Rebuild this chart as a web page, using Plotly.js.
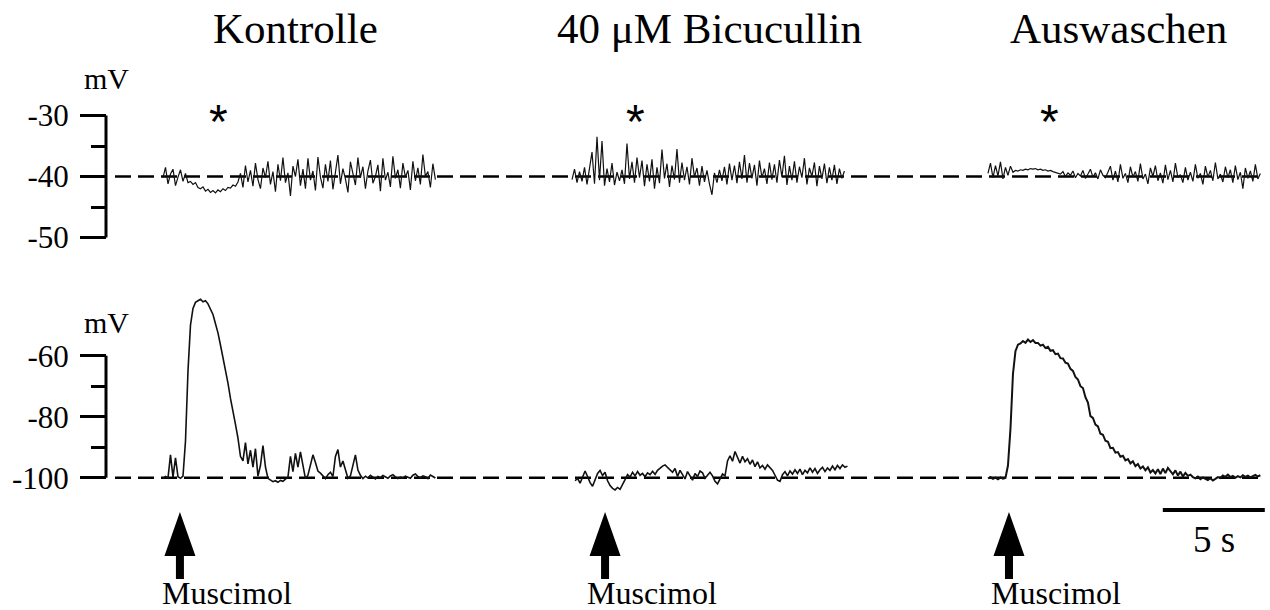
<!DOCTYPE html>
<html>
<head>
<meta charset="utf-8">
<script src="https://cdn.plot.ly/plotly-3.0.1.min.js"></script>
<style>html,body{margin:0;padding:0;background:#fff;}#chart{width:1270px;height:610px;}</style>
</head>
<body>
<div id="chart"></div>
<script>
// ---------------- DATA ----------------
const panelTitles = ["Kontrolle", "40 \u03bcM Bicucullin", "Auswaschen"];
const stimLabel = "Muscimol";
const unitLabel = "mV";
const scaleBarSeconds = 5;
const scaleBarLabel = "5 s";

// recording start times (s), sample interval (s)
const startTop = [7.99, 28.04, 48.43];
const startBottom = [7.99, 28.19, 48.43];
const sampleDt = 0.1225;
// Muscimol application times (s) and asterisk marks (s)
const muscimolTimes = [8.82, 29.66, 49.46];
const starTimes = [10.69, 31.13, 51.47];

// top row: membrane potential (mV)
const topKontrolle = [-40.2,-38.5,-41.2,-39.6,-38.8,-41.5,-40.1,-38.9,-40.8,-39.5,-41.0,
 -40.8,-41.3,-41.0,-41.8,-42.0,-41.7,-42.4,-42.1,-42.6,-42.3,-42.7,-42.2,-42.5,-42.0,-42.3,-41.8,-41.9,-41.4,-41.6,-40.9,
 -39.5,-41.8,-38.2,-40.9,-39.0,-41.6,-37.8,-40.5,-42.0,-38.6,-40.2,-37.5,-41.3,-39.2,-42.5,-38.0,-40.7,-36.9,-41.0,-39.4,-43.2,-38.3,-40.0,-37.2,
 -41.5,-38.8,-42.0,-37.0,-40.6,-39.1,-42.3,-36.8,-40.1,-41.9,-38.0,-40.8,-37.4,-42.1,-39.6,-36.5,-41.2,-38.7,-40.4,-42.6,-37.6,-39.8,-41.4,-36.9,-40.2,-38.4,-42.0,-39.1,-37.3,-41.1,-40.0,-38.1,-42.4,-37.0,-40.6,-39.3,-41.7,-36.7,-40.3,-38.9,-41.9,-37.8,-40.1,-39.0,-42.2,-37.5,-40.7,-38.6,-41.3,-36.4,-40.0,-39.2,-41.8,-37.9,-40.5];
const topBicucullin = [-40.5,-38.8,-41.0,-39.2,-40.8,-38.5,-41.3,-39.0,-36.0,-41.2,
 -33.5,-40.6,-34.2,-41.5,-38.7,-40.9,-37.8,-41.4,-39.3,-40.7,
 -38.9,-41.2,-34.6,-40.4,-37.6,-41.0,-36.9,-40.2,-37.4,-41.6,
 -38.0,-40.8,-37.2,-42.0,-38.5,-41.1,-35.6,-40.3,-37.9,-41.7,
 -38.2,-40.5,-35.5,-41.0,-37.7,-40.6,-38.4,-41.3,-37.0,-40.1,
 -38.6,-41.5,-38.3,-40.9,-39.0,-41.2,-43.0,-39.4,-41.0,-38.9,
 -40.7,-38.4,-41.3,-37.9,-40.6,-38.2,-41.1,-37.6,-40.4,-36.5,
 -41.0,-37.8,-40.3,-38.1,-41.5,-37.4,-40.2,-38.7,-41.2,-37.7,
 -40.5,-38.0,-41.0,-37.3,-40.1,-36.6,-41.4,-38.3,-40.6,-37.5,
 -41.0,-38.4,-40.2,-37.0,-41.3,-38.6,-40.0,-37.7,-41.6,-38.3,
 -40.4,-37.9,-41.1,-38.5,-40.6,-38.1,-41.2,-38.7,-40.3,-39.1];
const topAuswaschen = [-39.5,-37.8,-40.2,-38.2,-39.9,-37.6,-40.4,-38.5,-39.8,-38.3,
 -39.3,-39.0,-39.1,-38.9,-39.0,-38.8,-38.9,-38.7,-38.8,-38.7,-38.9,-38.8,-39.0,-38.9,-39.1,-39.0,-39.2,-39.3,-39.4,
 -39.6,-39.2,-40.0,-39.4,-39.8,-39.1,-40.2,-39.5,-39.9,-39.0,-40.3,-39.6,-38.8,-40.1,-39.4,-40.4,-38.9,-39.8,-40.2,-39.3,
 -38.3,-40.6,-39.1,-40.9,-38.0,-40.3,-39.5,-41.0,-38.4,-40.1,
 -39.2,-40.8,-37.9,-40.4,-39.6,-41.2,-38.6,-40.0,-38.2,-40.7,
 -39.4,-41.1,-38.1,-40.5,-39.0,-40.9,-37.8,-40.2,-39.7,-41.0,
 -38.5,-40.6,-39.3,-40.8,-38.0,-40.3,-39.5,-41.3,-38.3,-40.1,
 -39.0,-40.7,-37.7,-40.4,-39.6,-40.9,-38.4,-40.2,-38.9,-41.0,
 -38.2,-40.5,-39.3,-42.0,-38.6,-40.3,-39.1,-40.8,-38.0,-40.4,-39.5];

// bottom row: membrane potential (mV)
const botKontrolle = [-100.3,-99.6,-100.1,-92.5,-99.8,-93.5,-99.7,-100.2,-99.5,-88,
 -65,-50,-44.5,-42.5,-42.0,-41.5,-42.3,-42.0,-43.0,-44.5,
 -46.5,-49.5,-52.5,-56.5,-60.5,-64.5,-69,-74,-79,-82.5,
 -87,-93,-94.5,-88.5,-95.5,-91,-96.5,-90.5,-99.5,-96,
 -89.5,-96.5,-100.2,-100.8,-101.3,-101.0,-101.5,-100.9,-101.2,-100.5,
 -99.8,-93,-98,-92,-96.5,-91.5,-96,-100.3,-99.2,-96,
 -92.5,-95,-97.8,-98.5,-99.5,-100.3,-99.0,-98.2,-99.6,-93,
 -90.8,-96.5,-94.5,-97.5,-100.2,-99.4,-96,-92.5,-97.5,-99.2,
 -100.3,-99.5,-100.1,-99.2,-99.8,-100.4,-99.6,-100.0,-99.3,-99.9,
 -100.2,-99.4,-99.0,-99.7,-100.3,-99.8,-100.1,-99.5,-99.9,-100.2,
 -99.2,-98.8,-99.6,-100.0,-99.4,-99.7,-100.3,-99.1,-99.6,-100.1];
const botBicucullin = [-101.0,-100.2,-101.8,-99.5,-97.8,-99.6,-101.6,-102.8,-100.4,-98.6,
 -97.6,-99.3,-98.2,-101.0,-102.6,-103.5,-104.0,-103.2,-103.8,-102.0,
 -100.6,-99.0,-99.8,-98.2,-99.4,-98.0,-99.2,-98.6,-99.7,-98.4,
 -99.0,-97.9,-98.9,-97.6,-96.8,-96.2,-95.8,-96.6,-97.4,-98.2,
 -97.0,-99.6,-97.6,-98.8,-100.4,-98.0,-99.2,-100.8,-98.6,-99.6,
 -97.8,-98.4,-100.2,-99.0,-98.2,-99.4,-101.2,-102.0,-100.6,-98.8,
 -99.4,-94.5,-92.8,-94.6,-91.4,-93.4,-95.2,-93.0,-94.8,-93.8,
 -95.6,-94.2,-96.4,-94.8,-96.8,-96.0,-97.2,-95.8,-96.6,-97.6,
 -99.2,-100.8,-101.2,-99.0,-98.0,-99.4,-97.8,-98.8,-97.4,-98.6,
 -97.2,-99.0,-97.6,-98.4,-96.8,-98.2,-97.0,-98.6,-97.4,-96.6,
 -98.0,-96.8,-97.6,-96.2,-97.4,-96.0,-97.0,-95.8,-96.6,-96.2];
const botAuswaschen = [-100.2,-99.8,-100.4,-100.0,-100.5,-99.9,-100.3,-100.1,-96.0,-84.0,
 -66.0,-58.5,-56.4,-56.0,-55.2,-55.8,-54.7,-55.5,-54.9,-55.8,
 -55.8,-56.7,-56.4,-57.5,-57.1,-58.4,-58.2,-59.5,-59.3,-60.8,
 -60.9,-62.3,-62.6,-64.3,-65.0,-67.0,-67.8,-70.0,-70.6,-73.6,
 -75.4,-79.8,-80.4,-82.6,-83.2,-85.6,-85.9,-87.9,-88.2,-90.3,
 -90.2,-91.8,-91.6,-93.1,-92.8,-94.3,-93.9,-95.3,-94.6,-96.2,
 -95.5,-97.0,-96.3,-97.6,-96.6,-98.3,-97.5,-98.6,-97.2,-98.8,
 -97.0,-98.5,-96.8,-98.0,-98.9,-97.6,-99.3,-98.0,-99.6,-98.4,
 -99.4,-99.0,-99.8,-100.2,-99.6,-100.5,-99.9,-100.4,-100.8,-100.2,
 -100.9,-100.4,-99.8,-100.1,-99.3,-99.7,-99.0,-99.8,-99.4,-100.0,
 -99.5,-99.9,-99.2,-99.7,-99.3,-99.9,-99.4,-99.1,-99.6,-99.2];

// axis ticks
const topTickVals = [-30, -40, -50];
const topTickText = ["-30", "-40", "-50"];
const topMinorVals = [-35, -45];
const botTickVals = [-60, -80, -100];
const botTickText = ["-60", "-80", "-100"];
const botMinorVals = [-70, -90];
const topBaseline = -40;
const botBaseline = -100;

// ---------------- LAYOUT HELPERS ----------------
const W = 1270, H = 610;
const PXS = 20.4;                 // pixels per second
const px2s = p => p / PXS;
const pxX = p => p / W;           // paper x from pixel
const pxY = p => 1 - p / H;       // paper y from pixel
// top axis: -40 mV at y=176.5, 6.1 px/mV ; bottom axis: -100 mV at 477.7, 3.05 px/mV
const topV = py => -40 - (py - 176.5) / 6.1;
const botV = py => -100 - (py - 477.7) / 3.05;
const serif = "Liberation Serif, Times New Roman, serif";
const ink = "#000";

const topSeries = [topKontrolle, topBicucullin, topAuswaschen];
const botSeries = [botKontrolle, botBicucullin, botAuswaschen];
const traces = [];
topSeries.forEach((ys, i) => traces.push({
  type: "scatter", mode: "lines", y: ys, x0: startTop[i], dx: sampleDt,
  xaxis: "x", yaxis: "y", line: {color: "#111", width: 1.2}, hoverinfo: "skip"
}));
botSeries.forEach((ys, i) => traces.push({
  type: "scatter", mode: "lines", y: ys, x0: startBottom[i], dx: sampleDt,
  xaxis: "x", yaxis: "y2", line: {color: "#111", width: i === 2 ? 2 : 1.6}, hoverinfo: "skip"
}));

function axis(domainPx, vfun, tv, tt, mv) {
  return {
    domain: [pxY(domainPx[1]), pxY(domainPx[0])],
    range: [vfun(domainPx[1]), vfun(domainPx[0])],
    anchor: "free", position: pxX(106), side: "left",
    showgrid: false, zeroline: false, showline: false,
    tickmode: "array", tickvals: tv, ticktext: tt,
    ticks: "outside", ticklen: 26, tickwidth: 3, tickcolor: ink,
    minor: {tickmode: "array", tickvals: mv, ticks: "outside", ticklen: 15, tickwidth: 3, tickcolor: ink},
    tickfont: {family: serif, size: 31, color: ink},
    ticklabelstandoff: 5, fixedrange: true
  };
}

const shapes = [];
// axis spines
shapes.push({type: "line", xref: "paper", yref: "y", x0: pxX(106), x1: pxX(106), y0: topTickVals[0], y1: topTickVals[2], line: {color: ink, width: 3}});
shapes.push({type: "line", xref: "paper", yref: "y2", x0: pxX(106), x1: pxX(106), y0: botTickVals[0], y1: botTickVals[2], line: {color: ink, width: 3}});
// baselines (dashed)
shapes.push({type: "line", layer: "below", xref: "x", yref: "y", x0: px2s(115), x1: px2s(1262), y0: topBaseline, y1: topBaseline, line: {color: ink, width: 2.5, dash: "16px,7px"}});
shapes.push({type: "line", layer: "below", xref: "x", yref: "y2", x0: px2s(115), x1: px2s(1262), y0: botBaseline, y1: botBaseline, line: {color: ink, width: 2.5, dash: "16px,7px"}});
// scale bar
shapes.push({type: "line", xref: "x", yref: "paper", x0: 62.0 - scaleBarSeconds, x1: 62.0, y0: pxY(510), y1: pxY(510), line: {color: ink, width: 4}});
// Muscimol arrows
const headHalf = px2s(15.5), shaftHalf = px2s(4);
muscimolTimes.forEach(t => {
  const yt = pxY(512), yb = pxY(556), ye = pxY(579);
  shapes.push({type: "path", xref: "x", yref: "paper",
    path: `M ${t} ${yt} L ${t + headHalf} ${yb} L ${t + shaftHalf} ${yb} L ${t + shaftHalf} ${ye} L ${t - shaftHalf} ${ye} L ${t - shaftHalf} ${yb} L ${t - headHalf} ${yb} Z`,
    fillcolor: ink, line: {width: 0}});
});

const annotations = [];
const titleX = [295, 709, 1118];
panelTitles.forEach((s, i) => annotations.push({text: s, xref: "paper", yref: "paper", x: pxX(titleX[i]), y: pxY(29), xanchor: "center", yanchor: "middle", showarrow: false, font: {family: serif, size: 43, color: ink}}));
starTimes.forEach(t => annotations.push({text: "*", xref: "x", yref: "paper", x: t, y: pxY(122), xanchor: "center", yanchor: "middle", showarrow: false, font: {family: "Liberation Sans, Arial, sans-serif", size: 48, color: ink}}));
muscimolTimes.forEach(t => annotations.push({text: stimLabel, xref: "x", yref: "paper", x: t - px2s(20), y: pxY(593), xanchor: "left", yanchor: "middle", showarrow: false, font: {family: serif, size: 32, color: ink}}));
annotations.push({text: unitLabel, xref: "paper", yref: "paper", x: pxX(106), y: pxY(79), xanchor: "center", yanchor: "middle", showarrow: false, font: {family: serif, size: 30, color: ink}});
annotations.push({text: unitLabel, xref: "paper", yref: "paper", x: pxX(106), y: pxY(322), xanchor: "center", yanchor: "middle", showarrow: false, font: {family: serif, size: 30, color: ink}});
annotations.push({text: scaleBarLabel, xref: "x", yref: "paper", x: 62.0 - scaleBarSeconds / 2, y: pxY(539), xanchor: "center", yanchor: "middle", showarrow: false, font: {family: serif, size: 37, color: ink}});

const layout = {
  width: W, height: H,
  margin: {l: 0, r: 0, t: 0, b: 0, pad: 0},
  paper_bgcolor: "#fff", plot_bgcolor: "#fff",
  showlegend: false,
  xaxis: {domain: [0, 1], range: [0, W / PXS], visible: false, fixedrange: true},
  yaxis: axis([55, 265], topV, topTickVals, topTickText, topMinorVals),
  yaxis2: axis([285, 500], botV, botTickVals, botTickText, botMinorVals),
  shapes: shapes, annotations: annotations
};
Plotly.newPlot("chart", traces, layout, {displayModeBar: false, staticPlot: true});
</script>
</body>
</html>
